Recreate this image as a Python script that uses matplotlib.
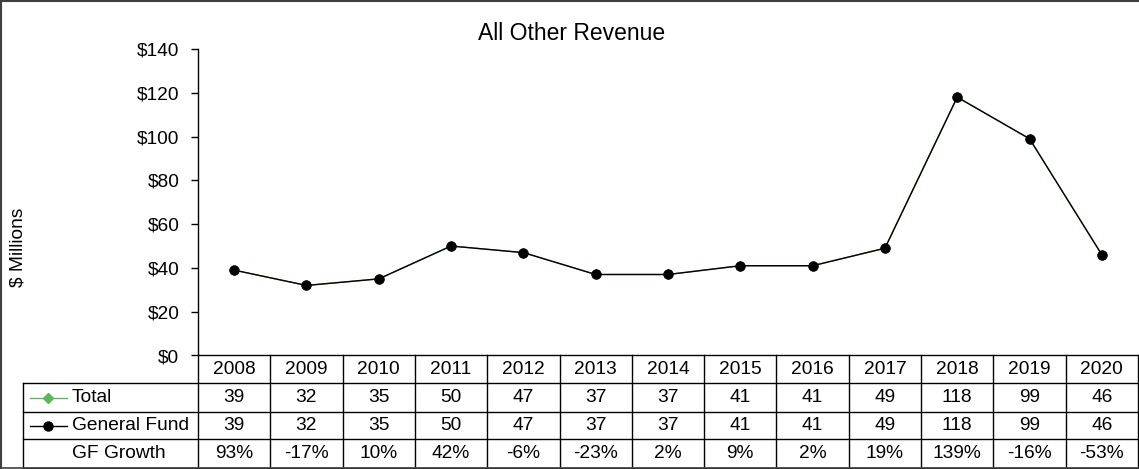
import matplotlib
matplotlib.use("Agg")
import matplotlib.pyplot as plt
from matplotlib import transforms
from matplotlib.lines import Line2D

plt.rcParams["font.family"] = ["Liberation Sans", "DejaVu Sans"]

years = ["2008", "2009", "2010", "2011", "2012", "2013", "2014",
         "2015", "2016", "2017", "2018", "2019", "2020"]
total = [39, 32, 35, 50, 47, 37, 37, 41, 41, 49, 118, 99, 46]
general_fund = [39, 32, 35, 50, 47, 37, 37, 41, 41, 49, 118, 99, 46]
gf_growth = ["93%", "-17%", "10%", "42%", "-6%", "-23%", "2%",
             "9%", "2%", "19%", "139%", "-16%", "-53%"]
y_ticks = [0, 20, 40, 60, 80, 100, 120, 140]

W, H = 1139, 469
fig = plt.figure(figsize=(W / 100, H / 100), dpi=100)


def fx(px):
    return px / W


def fy(py):
    return 1 - py / H


FS = 13.8
ax_left, ax_right, ax_top, ax_bottom = 198, 1138, 49, 355.5
ax = fig.add_axes([fx(ax_left), fy(ax_bottom), fx(ax_right - ax_left),
                   (ax_bottom - ax_top) / H])

x = list(range(len(years)))
ax.plot(x, total, color="#5cb85c", lw=1.0, marker="D", ms=5, zorder=2)
ax.plot(x, general_fund, color="black", lw=1.0, marker="o", ms=6.5, zorder=3)

ax.set_xlim(-0.5, len(years) - 0.5)
ax.set_ylim(0, 140)
ax.set_yticks(y_ticks)
ax.set_yticklabels([f"${v}" for v in y_ticks], fontsize=FS)
ax.set_xticks([])
for s in ("top", "right"):
    ax.spines[s].set_visible(False)
ax.spines["left"].set_linewidth(1.0)
ax.spines["bottom"].set_linewidth(1.0)
ax.spines["bottom"].set_bounds(-0.5, len(years) - 0.5)
ax.tick_params(axis="y", direction="out", length=5, width=1.0, pad=8.5)
ax.add_line(Line2D([fx(193), fx(ax_left)], [fy(ax_bottom), fy(ax_bottom)],
                   transform=fig.transFigure, color="black", lw=1.0))

fig.text(fx(571.5), fy(33), "All Other Revenue", fontsize=16.5,
         ha="center", va="center")
fig.text(fx(18), fy(247), "$ Millions", fontsize=FS, rotation=90,
         ha="center", va="center")

# data table below the axis
bt = transforms.blended_transform_factory(ax.transData, fig.transFigure)
row_edges = [355.5, 383, 412, 439, 468]
lw_t = 1.0
n = len(years)
for i in range(n + 1):
    ax.add_line(Line2D([i - 0.5, i - 0.5], [fy(row_edges[0]), fy(row_edges[-1])],
                       transform=bt, color="black", lw=lw_t, clip_on=False))
for yy in row_edges[1:]:
    fig.add_artist(Line2D([fx(23), fx(ax_right)], [fy(yy), fy(yy)],
                          color="black", lw=lw_t))
fig.add_artist(Line2D([fx(23), fx(23)], [fy(383), fy(468)],
                      color="black", lw=lw_t))

rows = [years, [str(v) for v in total], [str(v) for v in general_fund], gf_growth]
for r, vals in enumerate(rows):
    yc = (row_edges[r] + row_edges[r + 1]) / 2
    for i, v in enumerate(vals):
        ax.text(i, fy(yc), v, transform=bt, ha="center", va="center",
                fontsize=FS, clip_on=False)

labels = ["Total", "General Fund", "GF Growth"]
for r, lab in enumerate(labels):
    yc = (row_edges[r + 1] + row_edges[r + 2]) / 2
    fig.text(fx(72), fy(yc), lab, ha="left", va="center", fontsize=FS)
fig.add_artist(Line2D([fx(30), fx(67)], [fy(397.5)] * 2, color="#5cb85c",
                      lw=1.0))
fig.add_artist(Line2D([fx(48)], [fy(397.5)], color="#5cb85c", marker="D",
                      ms=5))
fig.add_artist(Line2D([fx(30), fx(67)], [fy(425.5)] * 2, color="black",
                      lw=1.0))
fig.add_artist(Line2D([fx(48)], [fy(425.5)], color="black", marker="o",
                      ms=6.5))

# outer frame
frame_c = "#404040"
fig.add_artist(Line2D([fx(0.5), fx(0.5)], [fy(0), fy(468)], color=frame_c, lw=1.5))
fig.add_artist(Line2D([fx(0), fx(W)], [fy(0.8), fy(0.8)], color=frame_c, lw=1.5))
fig.add_artist(Line2D([fx(0), fx(W)], [fy(468), fy(468)], color=frame_c, lw=1.2))

fig.savefig("out.png", dpi=100)
